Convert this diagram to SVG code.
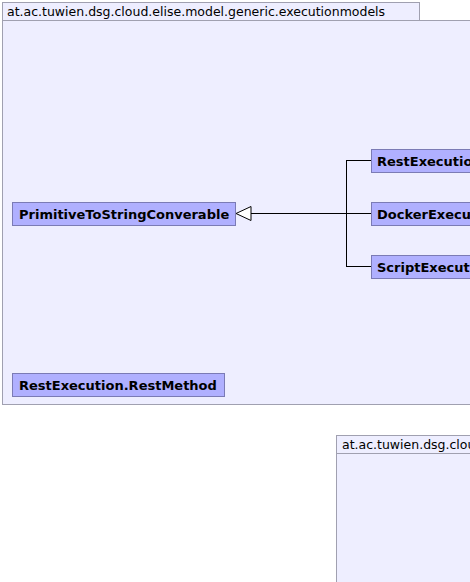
<svg xmlns="http://www.w3.org/2000/svg" width="470" height="582" viewBox="0 0 470 582">
<style>
.pkg{fill:#eeeeff;stroke:#a0a0b0;stroke-width:1}
.ptxt{font-family:"DejaVu Sans",sans-serif;font-size:12.5px;fill:#000}
.cls{fill:#b0b0ff;stroke:#7b7bb5;stroke-width:1}
.ctxt{font-family:"DejaVu Sans",sans-serif;font-size:13px;font-weight:bold;fill:#000}
.edge{fill:none;stroke:#000;stroke-width:1}
</style>
<rect width="470" height="582" fill="#ffffff"/>
<g id="pkg1">
<rect class="pkg" x="2.5" y="20.5" width="480" height="384"/>
<rect class="pkg" x="2.5" y="2.5" width="417" height="18"/>
<text class="ptxt" x="7" y="16">at.ac.tuwien.dsg.cloud.elise.model.generic.executionmodels</text>
</g>
<g id="pkg2">
<rect class="pkg" x="336.5" y="453.5" width="160" height="140"/>
<rect class="pkg" x="336.5" y="435.5" width="160" height="18"/>
<text class="ptxt" x="342" y="449">at.ac.tuwien.dsg.cloud.elise.model.generic</text>
</g>
<g id="connectors">
<path class="edge" d="M251 213.5 H371"/>
<path class="edge" d="M346.5 160.5 V266.5"/>
<path class="edge" d="M346 160.5 H371"/>
<path class="edge" d="M346 266.5 H371"/>
<polygon points="236,213.5 251,206.5 251,220.5" fill="#ffffff" stroke="#000" stroke-width="1"/>
</g>
<g id="PrimitiveToStringConverable">
<rect class="cls" x="12.5" y="202.5" width="223" height="23"/>
<text class="ctxt" x="19" y="218.5">PrimitiveToStringConverable</text>
</g>
<g id="RestExecution">
<rect class="cls" x="371.5" y="149.5" width="130" height="23"/>
<text class="ctxt" x="377" y="165.5">RestExecution</text>
</g>
<g id="DockerExecution">
<rect class="cls" x="371.5" y="202.5" width="130" height="23"/>
<text class="ctxt" x="377" y="218.5">DockerExecution</text>
</g>
<g id="ScriptExecution">
<rect class="cls" x="371.5" y="255.5" width="130" height="23"/>
<text class="ctxt" x="377" y="271.5">ScriptExecution</text>
</g>
<g id="RestExecution.RestMethod">
<rect class="cls" x="12.5" y="373.5" width="212" height="23"/>
<text class="ctxt" x="19" y="389.5">RestExecution.RestMethod</text>
</g>
</svg>
